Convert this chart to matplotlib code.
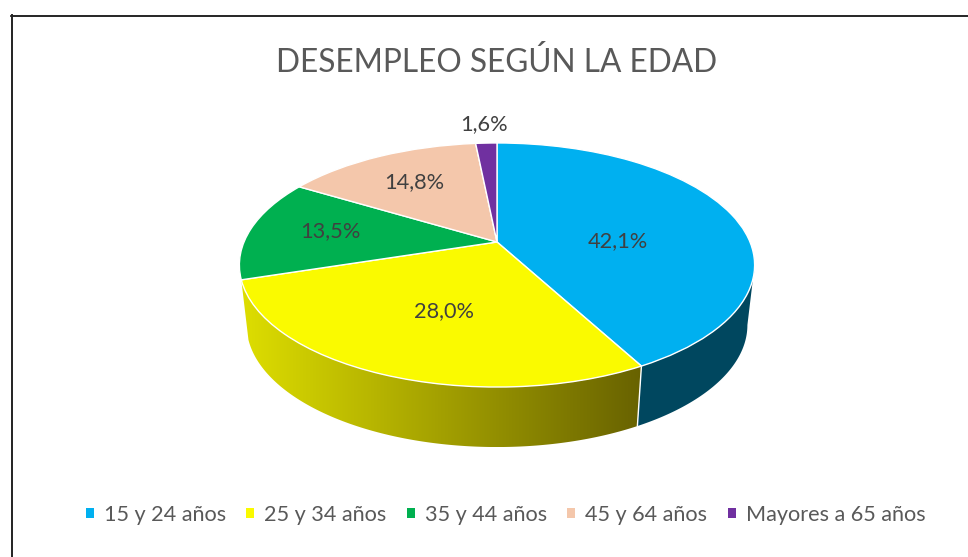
import numpy as np
import matplotlib
matplotlib.use("Agg")
import matplotlib.pyplot as plt
from matplotlib.lines import Line2D
from matplotlib.patches import Patch, Polygon
from matplotlib.colors import LinearSegmentedColormap
from matplotlib.transforms import Transform

title = "DESEMPLEO SEGÚN LA EDAD"
categories = ["15 y 24 años", "25 y 34 años", "35 y 44 años", "45 y 64 años", "Mayores a 65 años"]
values = [42.1, 28.0, 13.5, 14.8, 1.6]
value_labels = ["42,1%", "28,0%", "13,5%", "14,8%", "1,6%"]
colors = ["#00B0F0", "#FAFA00", "#00B050", "#F4C7AB", "#7030A0"]
label_xy = [(618, 241), (444, 311), (330, 231), (414, 182), (484, 124)]

FONT = "Lato"
CX, CY = 497.0, 242.0
A, B, K = 253.0, 117.7, 0.1885
DEPTH = 60.0
BOTTOM_X = 0.972


class Tilt(Transform):
    """Perspective view of the unit-circle pie, in figure pixels."""
    input_dims = output_dims = 2
    is_separable = False
    has_inverse = False

    def transform_non_affine(self, xy):
        xy = np.asarray(xy, float)
        w = 1 + K * xy[:, 1]
        return np.column_stack((CX + A * xy[:, 0] / w, CY - B * xy[:, 1] / w))


tilt = Tilt()


def rim(theta_deg, bottom=False):
    t = np.radians(theta_deg)
    p = tilt.transform(np.column_stack((np.sin(t), np.cos(t))))
    if bottom:
        p[:, 0] = CX + (p[:, 0] - CX) * BOTTOM_X
        p[:, 1] += DEPTH
    return p


fig = plt.figure(figsize=(9.68, 5.57), dpi=100, facecolor="white")
ax = fig.add_axes([0, 0, 1, 1])

wedges, _ = ax.pie(values, colors=colors, startangle=90, counterclock=False,
                   radius=1.0, wedgeprops=dict(edgecolor="white", linewidth=1.0))
for w in wedges:
    w.set_transform(tilt + ax.transData)
    w.set_zorder(5)

# side wall, built from the same fractions as the pie
ends = np.cumsum(values) / np.sum(values) * 360.0
blue_end, yellow_end = ends[0], ends[1]
silhouette = np.degrees(np.arccos(-K))

tb = np.linspace(silhouette, blue_end, 80)
poly = np.vstack((rim(tb), rim(tb[::-1], bottom=True)))
ax.fill(poly[:, 0], poly[:, 1], facecolor="#00475F", edgecolor="none", zorder=2)

# yellow wall with a horizontal shading
ty = np.linspace(blue_end, yellow_end, 160)
poly = np.vstack((rim(ty), rim(ty[::-1], bottom=True)))
shade = LinearSegmentedColormap.from_list("shade", ["#DEDE00", "#686200"])
im = ax.imshow(np.linspace(0, 1, 256)[None, :], cmap=shade, aspect="auto", zorder=2,
               extent=(poly[:, 0].min(), poly[:, 0].max(), poly[:, 1].max(), poly[:, 1].min()))
clip = Polygon(poly, closed=True, transform=ax.transData, facecolor="none", edgecolor="none")
ax.add_patch(clip)
im.set_clip_path(clip)

# white seam between the two walls
seam = np.vstack((rim([blue_end]), rim([blue_end], bottom=True)))
ax.plot(seam[:, 0], seam[:, 1], color="white", lw=1.0, zorder=3)

ax.set_aspect("auto")
ax.set_xlim(0, 968)
ax.set_ylim(557, 0)
ax.axis("off")

for (x, y), s in zip(label_xy, value_labels):
    ax.text(x, y, s, ha="center", va="center", fontsize=15.7, color="#404040",
            family=FONT, zorder=6)

ax.set_title(title, fontsize=22.8, color="#595959", family=FONT,
             x=497 / 968, y=1 - 72 / 557, va="baseline", pad=0)

handles = [Patch(facecolor=c, edgecolor="none") for c in colors]
fig.legend(handles, categories, ncol=5, frameon=False,
           loc="center", bbox_to_anchor=(505.5 / 968, 1 - 515 / 557),
           prop=dict(family=FONT, size=15.6), labelcolor="#595959",
           handlelength=0.37, handleheight=0.37, handletextpad=0.46,
           columnspacing=0.945, borderpad=0, borderaxespad=0)

# sheet border (top and left only)
ax.add_line(Line2D([11, 968], [15.5, 15.5], color="black", lw=1.2, clip_on=False))
ax.add_line(Line2D([11.5, 11.5], [15, 557], color="#222222", lw=1.4, clip_on=False))

fig.savefig("out.png", dpi=100)
